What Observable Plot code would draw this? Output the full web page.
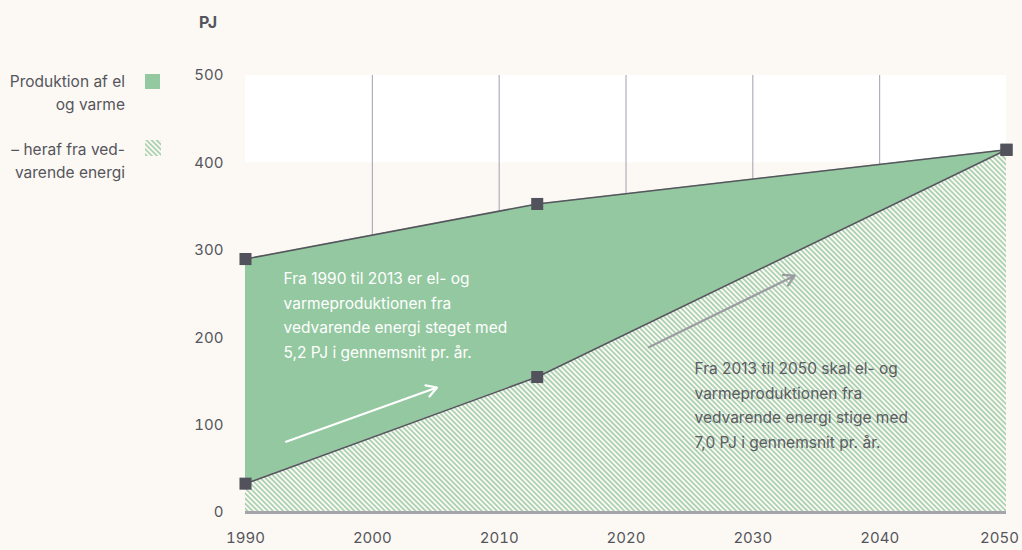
<!DOCTYPE html>
<html>
<head>
<meta charset="utf-8">
<script src="https://cdn.jsdelivr.net/npm/d3@7"></script>
<script src="https://cdn.jsdelivr.net/npm/@observablehq/plot@0.6"></script>
<style>
  html, body { margin: 0; padding: 0; background: #fcf9f4; overflow: hidden; }
  #wrap { position: relative; width: 1022px; height: 550px; font-family: Inter, "Open Sans", sans-serif; }
  .leg { position: absolute; color: #55555c; font-size: 15.5px; line-height: 23px; text-align: right; }
  .sw { position: absolute; width: 15px; height: 15px; }
</style>
</head>
<body>
<div id="wrap">
  <div class="leg" style="left:0; width:125px; top:70px;">Produktion af el<br>og varme</div>
  <div class="sw" style="left:145px; top:74px; background:#94c8a0;"></div>
  <div class="leg" style="left:0; width:125px; top:138px;">– heraf fra ved-<br>varende energi</div>
  <svg class="sw" style="left:145px; top:140px; width:16px; height:16px;">
    <defs>
      <pattern id="hatchL" patternUnits="userSpaceOnUse" width="3.6" height="3.6" patternTransform="rotate(-45)">
        <rect width="3.6" height="3.6" fill="#fcf9f4"></rect>
        <line x1="0.9" y1="0" x2="0.9" y2="3.6" stroke="#94c8a0" stroke-width="1.4"></line>
      </pattern>
    </defs>
    <rect width="16" height="16" fill="url(#hatchL)"></rect>
  </svg>
  <div id="chart"></div>
</div>
<script>
const years = [1990, 2013, 2050];
const total = [290, 353, 415];
const renewable = [33, 155, 415];
const xTicks = [1990, 2000, 2010, 2020, 2030, 2040, 2050];
const yTicks = [0, 100, 200, 300, 400, 500];
const gridYears = [2000, 2010, 2020, 2030, 2040];
const whiteBand = [{x1: 1990, x2: 2050, y1: 400, y2: 500}];
const arrowsWhite = [{x1: 1993.2, y1: 81, x2: 2005.1, y2: 143}];
const arrowsGray = [{x1: 2021.8, y1: 189, x2: 2033.3, y2: 271}];
const note1 = "Fra 1990 til 2013 er el- og\nvarmeproduktionen fra\nvedvarende energi steget med\n5,2 PJ i gennemsnit pr. år.";
const note2 = "Fra 2013 til 2050 skal el- og\nvarmeproduktionen fra\nvedvarende energi stige med\n7,0 PJ i gennemsnit pr. år.";
const notes = [
  {x: 1993.0, y: 281, text: note1, fill: "#ffffff"},
  {x: 2025.4, y: 178, text: note2, fill: "#5c5c62"}
];

const totalData = years.map((y, i) => ({year: y, value: total[i]}));
const renData = years.map((y, i) => ({year: y, value: renewable[i]}));

const chart = Plot.plot({
  width: 1022,
  height: 550,
  marginLeft: 245,
  marginRight: 16,
  marginTop: 75,
  marginBottom: 38,
  style: {background: "transparent", fontFamily: "Inter, 'Open Sans', sans-serif", fontSize: "15px", color: "#55555c", overflow: "visible"},
  x: {domain: [1990, 2050], ticks: xTicks, tickFormat: d => String(d), tickSize: 0, tickPadding: 20, label: null},
  y: {domain: [0, 500], ticks: yTicks, tickSize: 0, tickPadding: 22, label: null},
  marks: [
    Plot.rect(whiteBand, {x1: "x1", x2: "x2", y1: "y1", y2: "y2", fill: "#ffffff"}),
    Plot.ruleX(gridYears, {y1: 0, y2: 500, stroke: "#a0a0ae", strokeWidth: 1}),
    Plot.areaY(totalData, {x: "year", y: "value", fill: "#94c8a0"}),
    Plot.areaY(renData, {x: "year", y: "value", fill: "url(#hatch)"}),
    Plot.line(totalData, {x: "year", y: "value", stroke: "#55555d", strokeWidth: 1.6}),
    Plot.line(renData, {x: "year", y: "value", stroke: "#55555d", strokeWidth: 1.6}),
    Plot.ruleY([0], {x1: 1990, x2: 2050, stroke: "#a4a4aa", strokeWidth: 3}),
    Plot.arrow(arrowsWhite, {x1: "x1", y1: "y1", x2: "x2", y2: "y2", stroke: "#ffffff", strokeWidth: 2.2, headLength: 8}),
    Plot.arrow(arrowsGray, {x1: "x1", y1: "y1", x2: "x2", y2: "y2", stroke: "#9a9ca2", strokeWidth: 2.2, headLength: 8}),
    Plot.text(notes, {x: "x", y: "y", text: "text", fill: "fill", textAnchor: "start", lineAnchor: "top", lineHeight: 1.58, fontSize: 15.5}),
    Plot.dot(totalData, {x: "year", y: "value", symbol: "square", r: 6.8, fill: "#52525c", stroke: "none"}),
    Plot.dot(renData, {x: "year", y: "value", symbol: "square", r: 6.8, fill: "#52525c", stroke: "none"}),
    Plot.axisY({ticks: yTicks, tickSize: 0, tickPadding: 22, label: null, fill: "#55555c"}),
    Plot.axisX({ticks: xTicks, tickSize: 0, tickPadding: 20, tickFormat: d => String(d), label: null, fill: "#55555c"})
  ]
});

const ns = "http://www.w3.org/2000/svg";
const defs = document.createElementNS(ns, "defs");
defs.innerHTML = '<pattern id="hatch" patternUnits="userSpaceOnUse" width="3.6" height="3.6" patternTransform="rotate(-45)"><rect width="3.6" height="3.6" fill="#fcf9f4"></rect><line x1="0.9" y1="0" x2="0.9" y2="3.6" stroke="#94c8a0" stroke-width="1.4"></line></pattern>';
chart.insertBefore(defs, chart.firstChild);

// nudge the last x tick label inward so it stays inside the frame
chart.querySelectorAll("text").forEach(t => {
  if (t.textContent === "2050") t.setAttribute("dx", "-7");
});

const pj = document.createElementNS(ns, "text");
pj.setAttribute("x", 208);
pj.setAttribute("y", 28);
pj.setAttribute("text-anchor", "middle");
pj.setAttribute("font-weight", "bold");
pj.setAttribute("font-size", "16");
pj.setAttribute("fill", "#55555c");
pj.textContent = "PJ";
chart.appendChild(pj);

document.getElementById("chart").appendChild(chart);
</script>
</body>
</html>
